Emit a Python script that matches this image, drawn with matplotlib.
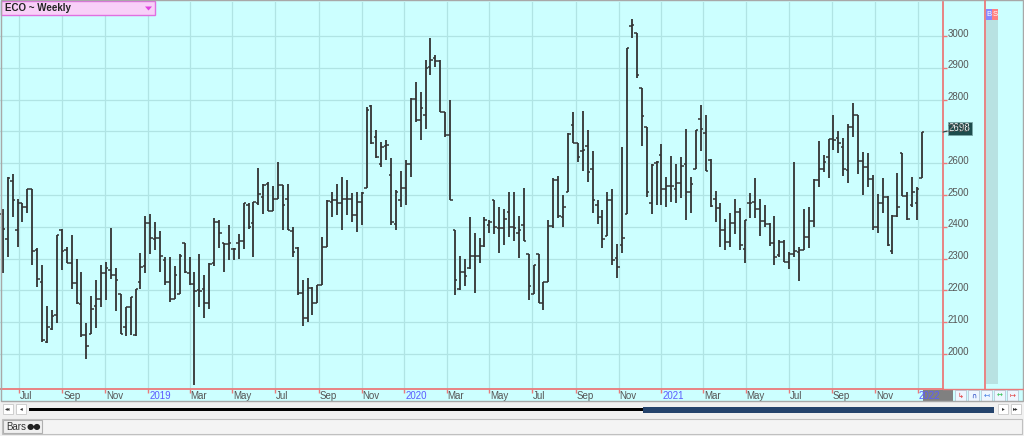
# %%
# libraries
import pandas as pd
import matplotlib
matplotlib.use('Agg')
import matplotlib.pyplot as plt
import matplotlib.dates as mdates
import matplotlib.transforms as mtransforms
from matplotlib.patches import Rectangle, Polygon
from matplotlib.lines import Line2D

plt.rcParams['font.family'] = ['Liberation Sans', 'DejaVu Sans']

# %%
# data: weekly OHLC bars, week ending on Friday
week_end = pd.date_range(end='2022-01-07', periods=188, freq='7D')

opens = [2440, 2361, 2545, 2390, 2474, 2461, 2518, 2326, 2225, 2038,
         2080, 2122, 2390, 2327, 2287, 2224, 2157, 2059, 2064, 2150,
         2172, 2254, 2264, 2250, 2188, 2086, 2148, 2059, 2227, 2277,
         2411, 2361, 2364, 2295, 2227, 2172, 2190, 2350, 2254, 2220,
         2201, 2206, 2159, 2285, 2416, 2348, 2345, 2329, 2350, 2356,
         2468, 2411, 2476, 2495, 2536, 2451, 2489, 2531, 2486, 2388,
         2332, 2191, 2112, 2208, 2161, 2217, 2337, 2479, 2484, 2476,
         2489, 2489, 2437, 2478, 2521, 2780, 2683, 2599, 2654, 2563,
         2409, 2484, 2521, 2599, 2801, 2736, 2751, 2903, 2930, 2922,
         2762, 2688, 2390, 2203, 2259, 2269, 2307, 2307, 2340, 2406,
         2485, 2396, 2396, 2448, 2401, 2380, 2406, 2315, 2189, 2315,
         2162, 2228, 2403, 2548, 2432, 2508, 2720, 2665, 2637, 2654,
         2581, 2469, 2432, 2371, 2483, 2301, 2343, 2441, 3032, 3009,
         2836, 2713, 2476, 2602, 2626, 2518, 2529, 2518, 2537, 2598,
         2508, 2581, 2738, 2694, 2610, 2489, 2458, 2390, 2353, 2411,
         2447, 2329, 2474, 2479, 2455, 2419, 2409, 2348, 2311, 2353,
         2290, 2316, 2322, 2327, 2369, 2419, 2547, 2581, 2620, 2675,
         2678, 2652, 2578, 2713, 2751, 2608, 2587, 2549, 2400, 2474,
         2495, 2325, 2434, 2631, 2497, 2470, 2474, 2555]

highs = [2455, 2556, 2566, 2487, 2476, 2518, 2518, 2332, 2280, 2151,
         2138, 2374, 2393, 2335, 2374, 2298, 2259, 2098, 2183, 2232,
         2280, 2290, 2395, 2269, 2188, 2148, 2178, 2203, 2319, 2435,
         2440, 2416, 2386, 2306, 2306, 2277, 2314, 2350, 2306, 2259,
         2314, 2248, 2285, 2427, 2422, 2350, 2406, 2332, 2377, 2476,
         2476, 2479, 2584, 2536, 2542, 2529, 2605, 2531, 2536, 2400,
         2337, 2233, 2238, 2212, 2217, 2369, 2484, 2510, 2536, 2557,
         2547, 2505, 2510, 2510, 2778, 2783, 2704, 2667, 2673, 2615,
         2516, 2576, 2610, 2804, 2856, 2825, 2924, 2995, 2940, 2924,
         2762, 2798, 2390, 2308, 2298, 2430, 2380, 2364, 2430, 2420,
         2485, 2462, 2455, 2508, 2508, 2434, 2521, 2315, 2280, 2315,
         2228, 2420, 2553, 2560, 2500, 2694, 2762, 2665, 2765, 2705,
         2637, 2483, 2453, 2511, 2518, 2346, 2652, 2961, 3053, 3009,
         2836, 2713, 2598, 2608, 2661, 2558, 2623, 2598, 2621, 2707,
         2558, 2703, 2783, 2751, 2612, 2513, 2474, 2426, 2444, 2489,
         2458, 2423, 2507, 2552, 2489, 2468, 2413, 2434, 2358, 2358,
         2322, 2605, 2337, 2455, 2461, 2549, 2671, 2626, 2675, 2751,
         2702, 2678, 2723, 2790, 2751, 2636, 2631, 2563, 2503, 2552,
         2497, 2437, 2568, 2633, 2510, 2558, 2526, 2699]

lows = [2254, 2306, 2432, 2338, 2416, 2443, 2280, 2212, 2038, 2035,
        2075, 2096, 2264, 2287, 2206, 2157, 2054, 1983, 2064, 2083,
        2148, 2170, 2235, 2136, 2062, 2056, 2059, 2056, 2203, 2254,
        2314, 2327, 2259, 2217, 2164, 2172, 2190, 2256, 2217, 1902,
        2148, 2112, 2143, 2277, 2332, 2259, 2296, 2296, 2298, 2329,
        2392, 2306, 2468, 2440, 2451, 2451, 2489, 2390, 2390, 2306,
        2185, 2088, 2102, 2123, 2161, 2217, 2337, 2432, 2437, 2390,
        2437, 2416, 2385, 2406, 2521, 2662, 2615, 2589, 2610, 2405,
        2390, 2463, 2468, 2557, 2730, 2673, 2709, 2877, 2903, 2762,
        2683, 2484, 2185, 2201, 2214, 2266, 2191, 2285, 2338, 2380,
        2378, 2319, 2343, 2369, 2354, 2301, 2354, 2170, 2189, 2162,
        2139, 2228, 2396, 2427, 2399, 2508, 2663, 2605, 2577, 2542,
        2443, 2409, 2333, 2371, 2280, 2238, 2317, 2441, 2993, 2867,
        2654, 2493, 2441, 2469, 2469, 2462, 2479, 2476, 2490, 2422,
        2445, 2581, 2637, 2576, 2463, 2416, 2337, 2327, 2337, 2379,
        2327, 2285, 2427, 2427, 2371, 2400, 2340, 2280, 2306, 2290,
        2266, 2306, 2231, 2327, 2332, 2400, 2524, 2573, 2555, 2641,
        2633, 2560, 2537, 2683, 2566, 2500, 2524, 2390, 2381, 2442,
        2340, 2314, 2432, 2497, 2421, 2463, 2421, 2553]

closes = [2394, 2554, 2485, 2476, 2461, 2518, 2324, 2236, 2044, 2086,
          2120, 2374, 2325, 2287, 2224, 2161, 2059, 2025, 2141, 2173,
          2254, 2269, 2250, 2232, 2062, 2148, 2178, 2203, 2275, 2411,
          2364, 2364, 2308, 2227, 2172, 2248, 2308, 2259, 2220, 2199,
          2199, 2161, 2283, 2416, 2382, 2346, 2348, 2330, 2356, 2474,
          2400, 2479, 2503, 2531, 2451, 2489, 2531, 2468, 2390, 2322,
          2191, 2112, 2208, 2161, 2217, 2337, 2482, 2484, 2476, 2489,
          2489, 2437, 2478, 2505, 2767, 2664, 2618, 2652, 2657, 2416,
          2510, 2521, 2599, 2801, 2736, 2775, 2898, 2924, 2922, 2762,
          2688, 2484, 2233, 2259, 2245, 2307, 2307, 2340, 2422, 2416,
          2401, 2396, 2424, 2401, 2396, 2390, 2354, 2214, 2280, 2162,
          2225, 2403, 2548, 2434, 2462, 2692, 2665, 2621, 2642, 2571,
          2483, 2432, 2361, 2483, 2296, 2273, 2364, 2961, 3035, 2878,
          2749, 2508, 2595, 2605, 2518, 2529, 2529, 2537, 2590, 2508,
          2535, 2703, 2707, 2577, 2465, 2458, 2390, 2353, 2411, 2447,
          2343, 2421, 2474, 2455, 2419, 2409, 2348, 2306, 2353, 2290,
          2316, 2325, 2327, 2369, 2419, 2547, 2581, 2605, 2675, 2673,
          2664, 2581, 2713, 2751, 2608, 2589, 2549, 2400, 2474, 2495,
          2343, 2434, 2463, 2497, 2425, 2510, 2518, 2698]

price_ticks = [2000, 2100, 2200, 2300, 2400, 2500, 2600, 2700, 2800, 2900, 3000]
month_ticks = pd.date_range('2018-07-01', '2022-01-01', freq='2MS')
month_labels = ['Jul', 'Sep', 'Nov', '2019', 'Mar', 'May', 'Jul', 'Sep', 'Nov',
                '2020', 'Mar', 'May', 'Jul', 'Sep', 'Nov',
                '2021', 'Mar', 'May', 'Jul', 'Sep', 'Nov', '2022']
last_price = 2698

# %%
# figure layout (pixel helpers, y measured from the top)
W, H = 1024, 436
CYAN = '#ccffff'
RED = '#ea7a7a'
BAR = '#333333'

fig = plt.figure(figsize=(W / 100, H / 100), dpi=100)
fig.patch.set_facecolor(CYAN)


def fx(px):
    return px / W


def fy(py):
    return 1 - py / H


def box(x0, y0, x1, y1, **kw):
    r = Rectangle((fx(x0), fy(y1)), (x1 - x0) / W, (y1 - y0) / H,
                  transform=fig.transFigure, **kw)
    fig.add_artist(r)
    return r


def ftext(px, py, s, **kw):
    fig.text(fx(px), fy(py), s, **kw)


# %%
# main chart
ax = fig.add_axes([0, fy(389), fx(943), (389 - 2) / H])
ax.set_facecolor(CYAN)
ax.set_xlim(pd.Timestamp('2018-06-04'), pd.Timestamp('2022-02-06'))
ax.set_ylim(1890, 3107)

x = mdates.date2num(week_end)
ax.vlines(x, lows, highs, color=BAR, lw=1.3, zorder=3)
ax.hlines(opens, x - 3.5, x, color=BAR, lw=1.1, zorder=3)
ax.hlines(closes, x, x + 3.5, color=BAR, lw=1.1, zorder=3)

ax.set_yticks(price_ticks)
ax.set_xticks(month_ticks)
ax.grid(True, color='#b0e4e4', lw=0.9)
ax.set_axisbelow(True)
ax.yaxis.tick_right()
ax.tick_params(axis='x', length=3, width=1, color=RED, labelbottom=False)
ax.tick_params(axis='y', length=3, width=1, color=RED, labelright=False, labelleft=False)
for s in ['top', 'left']:
    ax.spines[s].set_visible(False)
for s in ['right', 'bottom']:
    ax.spines[s].set_color(RED)
    ax.spines[s].set_linewidth(1.3)

# price labels on the right
ytrans = mtransforms.blended_transform_factory(fig.transFigure, ax.transData)
ytrans = mtransforms.offset_copy(ytrans, fig=fig, y=2.5, units='dots')
for v in price_ticks:
    fig.text(fx(948), v, str(v), transform=ytrans, ha='left', va='center',
             fontsize=7, color='#555555')

# month / year labels
for d, lab in zip(month_ticks, month_labels):
    col = '#5b5bff' if lab.isdigit() else '#555555'
    ax.annotate(lab, xy=(d, 0), xycoords=('data', 'axes fraction'),
                xytext=(1, -7), textcoords='offset pixels', ha='left', va='center',
                fontsize=7, color=col, annotation_clip=False)

# last price marker
ax.annotate(str(last_price), xy=(1.0, last_price), xycoords=('axes fraction', 'data'),
            xytext=(6, 4), textcoords='offset pixels', ha='left', va='center',
            fontsize=7, color='white', annotation_clip=False,
            bbox=dict(boxstyle='square,pad=0.15', fc='#1d4c4c', ec='#7aa8a8', lw=0.6),
            arrowprops=dict(arrowstyle='-', color='#1d4c4c', lw=0.8, shrinkA=0, shrinkB=0))

# %%
# chrome around the chart
# title box
box(1, 1, 155, 15, fc='#f8d0f8', ec='#e070e0', lw=1.0)
ftext(5, 8, 'ECO ~ Weekly', fontsize=7, fontweight='bold', color='#222222',
      ha='left', va='center')
fig.add_artist(Polygon([[fx(145), fy(6.5)], [fx(152), fy(6.5)], [fx(148.5), fy(10.5)]],
                       closed=True, transform=fig.transFigure, fc='#e040e0', ec='none'))

# second red divider and B/S column
fig.add_artist(Line2D([fx(985), fx(985)], [fy(0), fy(389)], transform=fig.transFigure,
                      color=RED, lw=1.3))
fig.add_artist(Line2D([fx(943), fx(1024)], [fy(389), fy(389)], transform=fig.transFigure,
                      color=RED, lw=1.0))
box(986, 20, 998, 384, fc='#b8e2e2', ec='none')
box(986, 9, 992, 20, fc='#8888ff', ec='none')
box(992, 9, 998, 20, fc='#ff8080', ec='none')
ftext(989, 14.5, 'B', fontsize=5.5, color='white', ha='center', va='center')
ftext(995, 14.5, 'S', fontsize=5.5, color='white', ha='center', va='center')

# box behind the 2022 label and the small buttons
box(923, 390, 953, 401, fc='#808080', ec='none', zorder=-1)
for bx, col, sym in zip([955, 968, 981, 994, 1007],
                        ['#e03030', '#2040c0', '#3070e0', '#30c050', '#e03030'],
                        ['\u21b3', '\u2229', '\u21a4', '\u2194', '\u21a6']):
    box(bx, 390, bx + 11, 401, fc='#eef6ff', ec='#b8c8d8', lw=0.6)
    ftext(bx + 5.5, 395.5, sym, fontsize=5, color=col, ha='center', va='center',
          family='DejaVu Sans')

# scrollbar row
box(0, 401, W, H, fc='#f0f0f0', ec='none')
for bx, sym in zip([3, 16], ['\u25c2\u25c2', '\u25c2']):
    box(bx, 404, bx + 10, 414, fc='white', ec='#c8c8c8', lw=0.6)
    ftext(bx + 5, 409, sym, fontsize=4, color='#333333', ha='center', va='center',
          family='DejaVu Sans')
for bx, sym in zip([998, 1011], ['\u25b8', '\u25b8\u25b8']):
    box(bx, 404, bx + 10, 414, fc='white', ec='#c8c8c8', lw=0.6)
    ftext(bx + 5, 409, sym, fontsize=4, color='#333333', ha='center', va='center',
          family='DejaVu Sans')
box(29, 408, 644, 410.5, fc='black', ec='none')
box(643, 406.5, 994, 412.5, fc='#24436c', ec='none')

# bottom tab row
box(2, 419, 1022, 434, fc='#f4f4f4', ec='#c0c0c0', lw=0.8)
box(3, 420, 42, 433, fc='#f0f0f0', ec='#b0b0b0', lw=0.8)
ftext(6, 426.5, 'Bars', fontsize=7, color='#333333', ha='left', va='center')
ftext(33.5, 426.5, '\u25cf\u25cf', fontsize=6, color='#222222', ha='center', va='center',
      family='DejaVu Sans')

# outer frame
box(0.5, 0.5, 1022.5, 401, fc='none', ec='#a8a8a8', lw=1.0)

fig.savefig('out.png', dpi=100, facecolor=fig.get_facecolor())
